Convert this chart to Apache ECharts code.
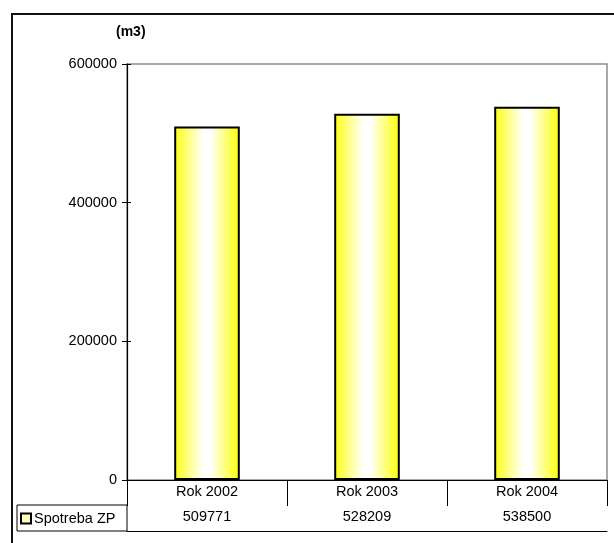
<!DOCTYPE html>
<html>
<head>
<meta charset="utf-8">
<script src="https://cdn.jsdelivr.net/npm/echarts@6/dist/echarts.min.js"></script>
<style>
html,body{margin:0;padding:0;background:#fff;}
#chart{width:614px;height:543px;}
</style>
</head>
<body>
<div id="chart"></div>
<script>
var categories = ['Rok 2002', 'Rok 2003', 'Rok 2004'];
var seriesName = 'Spotreba ZP';
var values = [509771, 528209, 538500];
var unitLabel = '(m3)';
var yMin = 0, yMax = 600000, yStep = 200000;

var FONT = 'Liberation Sans, Arial, sans-serif';
var chart = echarts.init(document.getElementById('chart'), null, {renderer: 'canvas'});

var barGradient = new echarts.graphic.LinearGradient(0, 0, 1, 0, [
  {offset: 0, color: '#ffff10'},
  {offset: 0.45, color: '#ffffff'},
  {offset: 0.55, color: '#ffffff'},
  {offset: 1, color: '#ffff00'}
]);

var option = {
  animation: false,
  backgroundColor: '#fff',
  textStyle: {fontFamily: FONT},
  title: {
    text: unitLabel, left: 116, top: 25, padding: 0,
    textStyle: {fontFamily: FONT, fontSize: 14, fontWeight: 'bold', color: '#000'}
  },
  legend: {
    data: [seriesName], left: 20, top: 511, padding: 0,
    itemWidth: 10, itemHeight: 10, icon: 'rect',
    itemStyle: {color: '#ffffc0', borderColor: '#000', borderWidth: 2},
    textStyle: {fontFamily: FONT, fontSize: 14.5, color: '#000', padding: [0, 0, 0, -2]}
  },
  grid: {
    left: 127, right: 7, top: 64, bottom: 63,
    show: true, borderColor: '#8c8c8c', borderWidth: 1.5, backgroundColor: 'transparent'
  },
  xAxis: [
    {
      type: 'category', data: categories, position: 'bottom',
      axisLine: {show: true, lineStyle: {color: '#000', width: 1.2}},
      axisTick: {show: true, length: 25, interval: 0, alignWithLabel: false, lineStyle: {color: '#000', width: 1}},
      axisLabel: {fontFamily: FONT, fontSize: 14.5, color: '#000', margin: 4, interval: 0}
    },
    {
      type: 'category', data: values.map(String), position: 'bottom', offset: 25,
      axisLine: {show: true, lineStyle: {color: '#000', width: 1}},
      axisTick: {show: true, length: 26, interval: 0, alignWithLabel: false, lineStyle: {color: '#000', width: 1}},
      axisLabel: {fontFamily: FONT, fontSize: 14.5, color: '#000', margin: 4, interval: 0}
    },
    {
      type: 'category', data: categories, position: 'bottom', offset: 51,
      axisLine: {show: true, lineStyle: {color: '#000', width: 1}},
      axisTick: {show: false}, axisLabel: {show: false}
    }
  ],
  yAxis: [
    {
      type: 'value', min: yMin, max: yMax, interval: yStep, position: 'left',
      axisLine: {show: true, lineStyle: {color: '#000', width: 1.2}},
      axisTick: {show: true, length: 5, lineStyle: {color: '#000'}},
      axisLabel: {fontFamily: FONT, fontSize: 14.5, color: '#000', margin: 10, formatter: function (v) { return String(v); }},
      splitLine: {show: false}
    },
    {
      type: 'value', min: yMin, max: yMax, interval: yStep, position: 'left',
      axisLine: {show: false},
      axisTick: {show: true, inside: true, length: 4, lineStyle: {color: '#000'}},
      axisLabel: {show: false},
      splitLine: {show: false}
    }
  ],
  series: [{
    name: seriesName, type: 'bar', data: values, xAxisIndex: 0, yAxisIndex: 0,
    barWidth: '41%',
    itemStyle: {color: barGradient, borderColor: '#000', borderWidth: 2}
  }],
  graphic: [
    {type: 'rect', shape: {x: 12, y: 14, width: 700, height: 700}, style: {fill: 'none', stroke: '#111', lineWidth: 2}, silent: true, z: 100},
    {type: 'rect', shape: {x: 17, y: 505, width: 110, height: 26}, style: {fill: 'none', stroke: '#000', lineWidth: 1}, silent: true, z: 100}
  ]
};
chart.setOption(option);
</script>
</body>
</html>
